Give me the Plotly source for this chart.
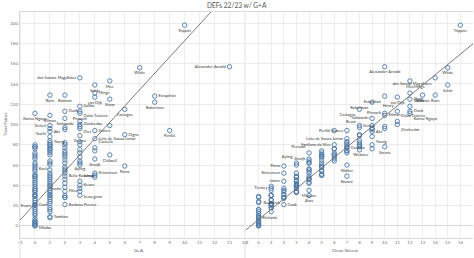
import plotly.graph_objects as go

# ---------------- data ----------------
names = ["Trippier", "Alexander-Arnold", "White", "dos Santos Magalhães", "Mee", "Schär",
         "Mings", "van Dijk", "Burn", "Botman", "Estupiñán", "Shaw", "Robertson", "Saliba",
         "Castagne", "Henry", "Dunk", "Pinnock", "Konsa Ngoyo", "Kilman", "Tarkowski",
         "Dalot Teixeira", "Zinchenko", "Dier", "Ream", "Senesi", "Guéhi", "Stones", "Aké",
         "Perišić", "Digne", "Zouma", "Young", "Leite de Souza Junior", "Emiliano da Silva",
         "Varane", "Cancelo", "Webster", "Perraud", "Chilwell", "Struijk", "Ayling", "Walker",
         "Porro", "Koch", "Kristensen", "Bella-Kotchap", "Konaté", "James", "Justin", "Keane",
         "Tierney", "Maguire", "Mina", "Sessegnon", "Aina", "Bednarek", "Barbosa Pereira",
         "Cook", "Evans", "Tomkins", "Richards", "Mbabu"]
ga = [10, 13, 7, 3, 5, 4, 4, 4, 1, 2, 8, 5, 8, 3, 6, 3, 2, 3, 0, 1, 2, 3, 3, 3, 2, 1, 1, 4, 1,
      9, 6, 3, 1, 4, 1, 0, 4, 1, 2, 5, 4, 3, 0, 6, 0, 4, 2, 0, 3, 2, 3, 3, 0, 2, 3, 0, 2, 2,
      0, 0, 1, 1, 0]
cs = [16, 10, 15, 14, 12, 15, 12, 11, 14, 13, 10, 12, 9, 12, 8, 11, 12, 10, 12, 10, 9, 11, 11,
      10, 8, 8, 9, 7, 9, 6, 8, 8, 9, 7, 6, 10, 7, 9, 4, 5, 4, 3, 7, 2, 4, 2, 3, 7, 2, 3, 3, 1,
      4, 3, 2, 4, 2, 1, 2, 1, 0, 0, 0]
pts = [198, 157, 156, 146, 143, 139, 131, 127, 129, 129, 128, 125, 122, 118, 115, 113, 113, 111,
       111, 109, 106, 103, 100, 98, 97, 99, 96, 94, 93, 94, 90, 89, 88, 86, 80, 78, 77, 76, 72,
       70, 66, 62, 60, 59, 56, 52, 49, 49, 44, 42, 40, 37, 35, 34, 34, 30, 28, 21, 21, 20, 9, 8, 4]

# unlabelled defenders
other_ga = [0] * 38 + [1] * 32 + [2] * 17 + [3] * 9 + [4] * 3 + [5]
other_pts = [80, 78, 76, 72, 70, 68, 66, 62, 58, 54, 51, 49, 47, 45, 43, 41, 39, 37, 35, 33,
             31, 29, 27, 25, 23, 21, 18, 16, 14, 12, 10, 7, 5, 3, 2, 1, 0, 0,
             84, 82, 80, 78, 76, 74, 72, 70, 64, 62, 60, 55, 52, 50, 48, 46, 44, 42, 40, 39,
             37, 35, 33, 31, 30, 28, 26, 24, 22, 18, 16, 14,
             95, 82, 80, 77, 74, 70, 68, 65, 62, 58, 56, 54, 52, 46, 38, 30, 28,
             96, 83, 80, 75, 72, 68, 64, 60, 30,
             74, 50, 48,
             99]
other_cs = [8, 7, 6, 7, 6, 5, 6, 5, 5, 4, 5, 4, 4, 3, 4, 3, 3, 2, 1, 3,
            2, 0, 2, 1, 0, 1, 1, 0, 1, 0, 0, 0, 0, 0, 0, 0, 0, 0,
            8, 7, 7, 8, 6, 7, 5, 6, 6, 4, 5, 5, 4, 5, 3, 4, 3, 4, 3, 1,
            3, 2, 3, 2, 1, 2, 1, 0, 1, 1, 0, 0,
            9, 8, 9, 7, 7, 5, 6, 5, 4, 5, 4, 5, 3, 4, 3, 1, 0,
            10, 7, 8, 8, 6, 5, 4, 3, 1,
            5, 5, 3,
            9]

# trend lines: (intercept, slope)
trend_ga = (21.7, 16.1)
trend_cs = (6.2, 10.2)

left_labels = {"Trippier": "bottom center", "Alexander-Arnold": "middle left", "White": "bottom center",
               "dos Santos Magalhães": "middle left", "Mee": "bottom center", "Schär": "bottom center",
               "Mings": "middle right", "van Dijk": "bottom center", "Shaw": "bottom center",
               "Burn": "bottom center", "Botman": "bottom center", "Saliba": "middle right",
               "Estupiñán": "middle right", "Robertson": "bottom center", "Castagne": "bottom center",
               "Dunk": "middle right", "Pinnock": "bottom center", "Konsa Ngoyo": "bottom center",
               "Kilman": "bottom center", "Tarkowski": "bottom center", "Dalot Teixeira": "top right",
               "Zinchenko": "middle right", "Dier": "bottom right", "Senesi": "middle left",
               "Guéhi": "bottom left", "Aké": "middle right", "Young": "bottom right",
               "Stones": "middle right", "Leite de Souza Junior": "middle right", "Digne": "middle right",
               "Zouma": "bottom center", "Cancelo": "top right", "Chilwell": "bottom center",
               "Struijk": "bottom center", "Perišić": "bottom center", "Porro": "bottom center",
               "Ayling": "bottom center", "Kristensen": "middle right", "Bella-Kotchap": "middle right",
               "Justin": "bottom left", "James": "top right", "Keane": "middle right",
               "Sessegnon": "bottom right", "Mina": "middle right", "Barbosa Pereira": "middle right",
               "Koch": "middle right", "Evans": "middle left", "Cook": "middle right",
               "Tomkins": "middle right", "Mbabu": "bottom right"}
right_labels = {"Trippier": "bottom center", "Alexander-Arnold": "bottom center",
                "dos Santos Magalhães": "bottom left", "White": "bottom center", "Mee": "bottom center",
                "Mings": "top right", "Schär": "bottom center", "Estupiñán": "bottom left",
                "van Dijk": "bottom center", "Shaw": "middle right", "Botman": "bottom center",
                "Burn": "bottom center", "Robertson": "bottom left", "Henry": "top left",
                "Saliba": "top right", "Dunk": "middle right", "Konsa Ngoyo": "bottom right",
                "Castagne": "bottom left", "Tarkowski": "middle left", "Pinnock": "middle left",
                "Dalot Teixeira": "top right", "Zinchenko": "bottom right", "Stones": "middle left",
                "Ream": "top left", "Senesi": "middle right", "Kilman": "middle right",
                "Aké": "middle right", "Young": "bottom right", "Perišić": "middle left",
                "Cancelo": "middle right", "Leite de Souza Junior": "middle left",
                "Emiliano da Silva": "middle left", "Webster": "bottom left", "Varane": "bottom center",
                "Perraud": "top left", "Struijk": "middle left", "Ayling": "top left",
                "Porro": "middle left", "Kristensen": "middle left", "James": "middle left",
                "Tierney": "middle left", "Konaté": "bottom center", "Walker": "bottom center",
                "Maguire": "bottom center", "Bednarek": "bottom left", "Aina": "bottom center",
                "Cook": "middle right", "Richards": "middle right"}

# ---------------- figure ----------------
W, H = 474, 258
BLUE = "#4e79a7"
FONT = "Lato, Open Sans, sans-serif"

fig = go.Figure()

def panel(xs, xs_other, labels, xref, yref):
    all_x = list(xs_other) + list(xs)
    all_y = list(other_pts) + list(pts)
    texts = [""] * len(xs_other) + [n if n in labels else "" for n in names]
    tpos = ["middle right"] * len(xs_other) + [labels.get(n, "middle right") for n in names]
    fig.add_trace(go.Scatter(
        x=all_x, y=all_y, mode="markers+text", text=texts, textposition=tpos,
        textfont=dict(size=4.0, color="#333333", family=FONT),
        marker=dict(symbol="circle-open", size=4.4, color=BLUE, line=dict(width=0.9, color=BLUE)),
        xaxis=xref, yaxis=yref, showlegend=False, cliponaxis=False, hoverinfo="skip"))

panel(ga, other_ga, left_labels, "x", "y")
panel(cs, other_cs, right_labels, "x2", "y2")

# trend lines
for (b0, b1), xr, xref, yref in [(trend_ga, (-1, 14), "x", "y"), (trend_cs, (-1, 17), "x2", "y2")]:
    fig.add_trace(go.Scatter(x=list(xr), y=[b0 + b1 * v for v in xr], mode="lines",
                             line=dict(color="#6b6b6b", width=0.9), xaxis=xref, yaxis=yref,
                             showlegend=False, hoverinfo="skip"))

left_dom = [20 / W, 244.5 / W]
right_dom = [246 / W, 473 / W]
y_dom = [1 - 238 / H, 1 - 12 / H]
YR = [-12, 211]

axfont = dict(size=4.6, color="#777777", family=FONT)
common_x = dict(dtick=1, tick0=-1, showgrid=True, gridcolor="#efefef", gridwidth=0.6,
                zeroline=False, showline=True, linecolor="#d9d9d9", linewidth=0.8, mirror=True,
                ticks="", tickfont=axfont, automargin=False, fixedrange=True)
fig.update_layout(
    width=W, height=H, margin=dict(l=0, r=0, t=0, b=0),
    paper_bgcolor="white", plot_bgcolor="white",
    xaxis=dict(domain=left_dom, range=[-1, 14], anchor="y", tickvals=list(range(-1, 15)), **common_x),
    xaxis2=dict(domain=right_dom, range=[-1, 17], anchor="y2", tickvals=list(range(-1, 18)), **common_x),
    yaxis=dict(domain=y_dom, range=YR, tickvals=list(range(0, 201, 20)), showgrid=True,
               gridcolor="#ececec", gridwidth=0.6, zeroline=True, zerolinecolor="#d6d6d6",
               zerolinewidth=0.8, showline=True, linecolor="#d9d9d9", linewidth=0.8,
               ticks="", tickfont=axfont, automargin=False, fixedrange=True, anchor="x"),
    yaxis2=dict(domain=y_dom, range=YR, tickvals=list(range(0, 201, 20)), showgrid=True,
                gridcolor="#ececec", gridwidth=0.6, zeroline=True, zerolinecolor="#d6d6d6",
                zerolinewidth=0.8, showticklabels=False, showline=False, anchor="x2",
                matches="y", fixedrange=True),
    font=dict(family=FONT),
    annotations=[
        dict(text="DEFs 22/23 w/ G+A", x=0.5, y=1 - 5 / H, xref="paper", yref="paper",
             showarrow=False, font=dict(size=6.6, color="#555555", family=FONT), xanchor="center",
             yanchor="middle"),
        dict(text="G+A", x=(left_dom[0] + left_dom[1]) / 2, y=1 - 250 / H, xref="paper", yref="paper",
             showarrow=False, font=dict(size=4.6, color="#555555", family=FONT), yanchor="middle"),
        dict(text="Clean Sheets", x=(right_dom[0] + right_dom[1]) / 2, y=1 - 250 / H, xref="paper",
             yref="paper", showarrow=False, font=dict(size=4.6, color="#555555", family=FONT),
             yanchor="middle"),
        dict(text="Total Points", x=5 / W, y=1 - 125 / H, xref="paper", yref="paper", textangle=-90,
             showarrow=False, font=dict(size=4.6, color="#555555", family=FONT), xanchor="center",
             yanchor="middle"),
    ],
    shapes=[
        dict(type="line", xref="paper", yref="paper", x0=20 / W, x1=20 / W, y0=0, y1=y_dom[1],
             line=dict(color="#d9d9d9", width=0.8)),
        dict(type="line", xref="paper", yref="paper", x0=245 / W, x1=245 / W, y0=0, y1=y_dom[1],
             line=dict(color="#d9d9d9", width=0.8)),
    ],
)

fig.write_html("out.html")
